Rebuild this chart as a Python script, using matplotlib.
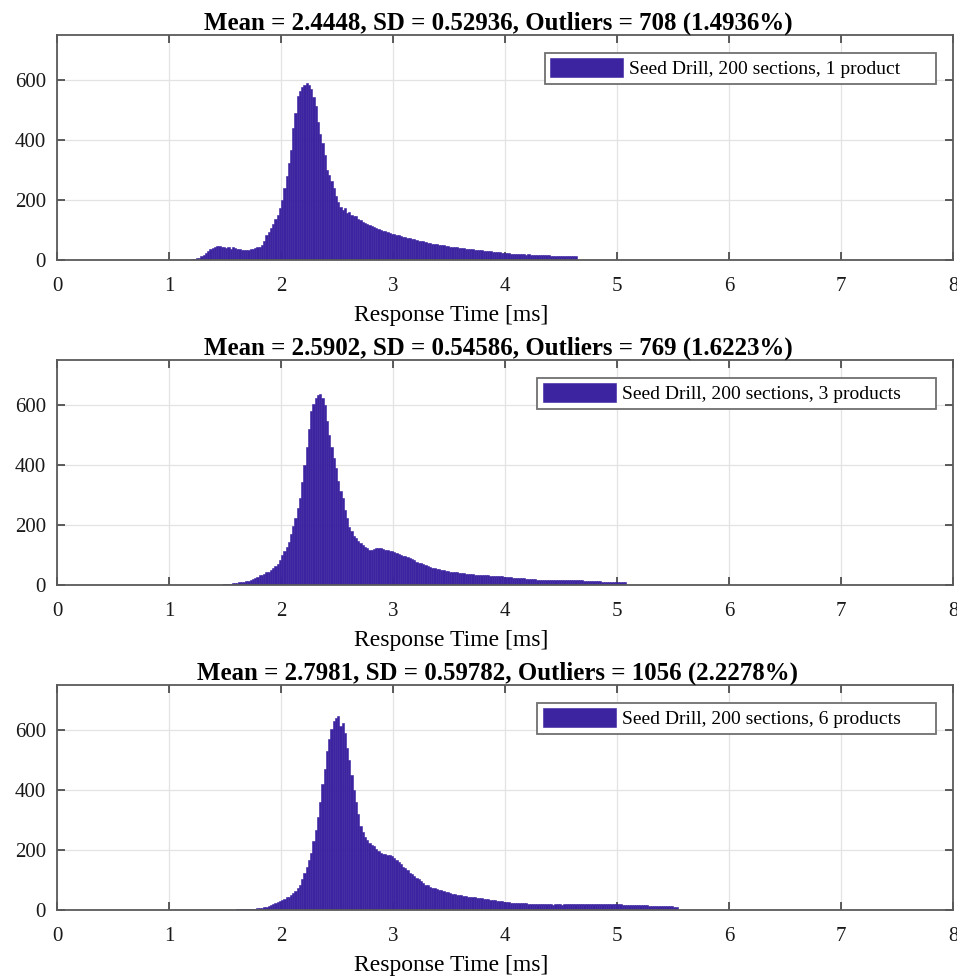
import matplotlib
matplotlib.use("Agg")
import matplotlib.pyplot as plt
import numpy as np

plt.rcParams['font.family'] = ['Liberation Serif', 'DejaVu Serif']

bin_w = 0.02
bar_color = '#3c23a0'

# panel 1: 1 product, first bin starts at 1.20 ms
start1 = 1.20
counts1 = [3, 5, 6, 8, 12, 18, 25, 30, 36, 40,
           44, 46, 48, 42, 45, 40, 44, 38, 42, 40,
           36, 38, 34, 35, 32, 34, 36, 38, 40, 42,
           42, 50, 65, 82, 95, 106, 120, 138, 150, 175,
           200, 240, 280, 325, 368, 440, 490, 546, 565, 578,
           585, 591, 582, 569, 545, 513, 460, 420, 390, 350,
           301, 285, 262, 240, 212, 195, 178, 167, 175, 157,
           160, 150, 146, 148, 138, 133, 128, 124, 120, 117,
           114, 110, 106, 103, 100, 98, 96, 93, 90, 88,
           87, 85, 83, 80, 78, 76, 74, 72, 71, 69,
           67, 65, 63, 62, 60, 58, 56, 55, 54, 52,
           51, 50, 49, 47, 46, 45, 44, 43, 42, 41,
           40, 39, 38, 37, 36, 36, 35, 34, 33, 32,
           31, 30, 30, 29, 28, 27, 26, 26, 25, 24,
           22, 22, 21, 21, 20, 20, 19, 19, 19, 18,
           19, 18, 18, 17, 17, 17, 17, 16, 16, 16,
           15, 15, 15, 14, 14, 14, 13, 13, 13, 13,
           12, 12]

# panel 2: 3 products
start2 = 1.48
counts2 = [2, 3, 4, 5, 6, 7, 8, 9, 10, 11,
           12, 14, 17, 20, 24, 28, 32, 35, 38, 42,
           45, 50, 56, 62, 70, 85, 100, 113, 128, 145,
           170, 198, 225, 258, 290, 345, 400, 460, 520, 580,
           605, 625, 632, 638, 622, 600, 546, 500, 460, 425,
           390, 346, 315, 290, 250, 225, 195, 180, 165, 156,
           148, 140, 134, 128, 122, 117, 118, 120, 122, 123,
           124, 120, 117, 116, 114, 112, 109, 106, 104, 100,
           98, 96, 94, 90, 86, 82, 78, 75, 72, 70,
           66, 63, 60, 58, 56, 54, 52, 50, 49, 47,
           46, 45, 44, 43, 42, 41, 40, 39, 38, 37,
           37, 36, 35, 35, 34, 33, 33, 32, 32, 31,
           31, 30, 30, 29, 29, 28, 28, 27, 26, 25,
           24, 24, 23, 22, 22, 21, 20, 20, 19, 19,
           18, 18, 17, 17, 16, 16, 16, 17, 17, 17,
           17, 16, 16, 17, 17, 18, 17, 17, 16, 17,
           16, 15, 15, 14, 14, 13, 13, 12, 12, 11,
           11, 11, 10, 10, 10, 10, 9, 9, 9, 9]

# panel 3: 6 products
start3 = 1.56
counts3 = [1, 1, 2, 2, 2, 3, 3, 3, 4, 4,
           5, 6, 7, 8, 9, 11, 13, 16, 20, 25,
           28, 31, 34, 38, 42, 45, 50, 56, 64, 73,
           85, 102, 123, 145, 168, 190, 230, 268, 310, 360,
           420, 470, 530, 570, 602, 630, 640, 647, 613, 625,
           591, 540, 500, 450, 400, 360, 320, 279, 260, 245,
           234, 225, 218, 212, 205, 198, 190, 188, 186, 184,
           182, 180, 175, 167, 160, 152, 145, 139, 132, 125,
           120, 115, 108, 102, 96, 89, 85, 82, 78, 75,
           73, 71, 68, 66, 64, 61, 59, 57, 55, 53,
           51, 50, 49, 48, 46, 45, 44, 43, 42, 41,
           40, 39, 38, 37, 36, 35, 33, 32, 31, 30,
           29, 28, 27, 26, 25, 24, 24, 23, 23, 22,
           22, 22, 21, 21, 21, 20, 20, 20, 20, 19,
           19, 19, 20, 18, 19, 20, 19, 18, 19, 20,
           19, 19, 20, 19, 20, 19, 20, 20, 19, 20,
           21, 20, 19, 20, 21, 20, 19, 20, 20, 19,
           20, 20, 19, 19, 18, 18, 18, 17, 17, 17,
           17, 16, 17, 16, 16, 16, 15, 15, 15, 14,
           14, 14, 13, 13, 12, 12, 12, 11, 11]

titles = ['Mean = 2.4448, SD = 0.52936, Outliers = 708 (1.4936%)',
          'Mean = 2.5902, SD = 0.54586, Outliers = 769 (1.6223%)',
          'Mean = 2.7981, SD = 0.59782, Outliers = 1056 (2.2278%)']
labels = ['Seed Drill, 200 sections, 1 product',
          'Seed Drill, 200 sections, 3 products',
          'Seed Drill, 200 sections, 6 products']
starts = [start1, start2, start3]
all_counts = [counts1, counts2, counts3]

fig = plt.figure(figsize=(9.57, 9.76), dpi=100)
bottoms = [0.7336, 0.4006, 0.0676]

for i in range(3):
    ax = fig.add_axes([0.0596, bottoms[i], 0.9363, 0.2305])
    c = np.array(all_counts[i])
    x = starts[i] + bin_w * np.arange(len(c))
    # trailing spaces give the wide right margin of the matlab legend box
    ax.bar(x, c, width=bin_w, align='edge', color=bar_color,
           edgecolor=bar_color, linewidth=0.4, label=labels[i] + '      ',
           zorder=2)
    ax.set_xlim(0, 8)
    ax.set_ylim(0, 750)
    ax.set_xticks(range(0, 9))
    ax.set_yticks([0, 200, 400, 600])
    ax.grid(True, color='#e3e3e3', linewidth=0.9, zorder=0)
    ax.set_axisbelow(True)
    ax.tick_params(direction='in', length=6, width=1.2, colors='#404040',
                   top=True, right=True, labelsize=15, labelcolor='#1a1a1a')
    ax.tick_params(axis='x', pad=12)
    ax.tick_params(axis='y', pad=8)
    for s in ax.spines.values():
        s.set_color('#5a5a5a')
        s.set_linewidth(1.3)
    ax.set_title(titles[i], fontsize=17.9, fontweight='bold', pad=4, x=0.492)
    ax.set_xlabel('Response Time [ms]', fontsize=17, labelpad=7)
    ax.xaxis.label.set_x(0.44)
    leg = ax.legend(loc='upper right', fontsize=14, fancybox=False,
                    edgecolor='#707070', framealpha=1, handlelength=3.75,
                    handleheight=1.1, borderpad=0.3, borderaxespad=0.9,
                    handletextpad=0.3)
    leg.get_frame().set_linewidth(1.3)

fig.savefig('out.png', dpi=100)
